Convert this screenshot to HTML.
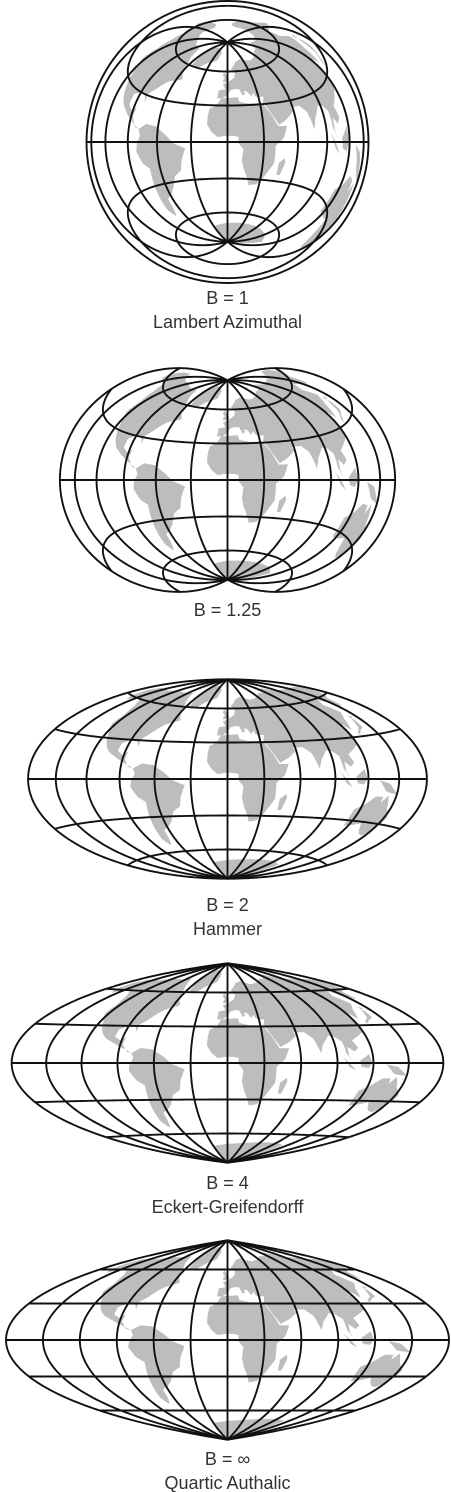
<!DOCTYPE html>
<html><head><meta charset="utf-8"><style>
html,body{margin:0;padding:0;background:#fff;}
svg{display:block;}
text{font-family:"Liberation Sans",sans-serif;font-size:18px;fill:#333;text-anchor:middle;}
</style></head><body>
<svg id="fig" width="451" height="1492" viewBox="0 0 451 1492" xmlns="http://www.w3.org/2000/svg"></svg>
<script>
const bValues=[1,1.25,2,4,Infinity];
const bLabels=["B = 1","B = 1.25","B = 2","B = 4","B = \u221e"];
const projNames=["Lambert Azimuthal","","Hammer","Eckert-Greifendorff","Quartic Authalic"];
const centerYs=[142,480,779,1063,1340];
const labelYs=[304,616,911,1189,1465];
const meridians=[-180,-150,-120,-90,-60,-30,0,30,60,90,120,150,180];
const parallels=[-60,-30,0,30,60];
const centralLon=0;
const land=[
[[-168,66],[-162,70],[-140,70],[-120,72],[-95,72],[-80,73],[-65,62],[-60,55],[-53,48],[-66,44],[-70,41],[-76,35],[-81,31],[-80,25],[-83,29],[-90,30],[-97,27],[-97,21],[-91,18],[-87,21],[-88,15],[-83,9],[-79,8],[-85,11],[-92,14],[-105,20],[-110,24],[-115,30],[-117,33],[-124,40],[-124,48],[-130,55],[-140,60],[-150,60],[-158,57],[-165,60]],
[[-55,60],[-45,60],[-35,66],[-20,70],[-18,78],[-30,83],[-50,82],[-65,78],[-58,70]],
[[-79,8],[-72,12],[-62,11],[-52,5],[-45,-1],[-35,-5],[-39,-14],[-41,-22],[-48,-26],[-53,-34],[-58,-38],[-65,-41],[-66,-47],[-69,-52],[-72,-54],[-75,-48],[-73,-37],[-71,-25],[-70,-18],[-76,-14],[-81,-6],[-80,-1],[-77,4]],
[[-17,21],[-16,27],[-10,30],[-6,36],[10,37],[11,33],[20,31],[32,31],[34,28],[39,20],[43,12],[51,12],[47,3],[40,-3],[40,-10],[40,-16],[35,-24],[32,-29],[27,-34],[20,-35],[18,-30],[14,-22],[12,-15],[13,-6],[9,-1],[9,4],[5,5],[-2,5],[-8,4],[-13,8],[-17,14]],
[[44,-25],[47,-25],[50,-15],[49,-12],[44,-16]],
[[-10,36],[-9,43],[-2,44],[-5,48],[2,51],[8,54],[10,58],[5,62],[15,69],[25,71],[40,68],[45,68],[60,70],[70,73],[80,73],[100,77],[115,73],[130,72],[150,71],[170,70],[175,68],[175,65],[170,60],[160,58],[156,51],[142,59],[135,55],[140,48],[132,43],[128,38],[126,35],[122,40],[118,38],[122,31],[120,25],[110,20],[106,18],[109,12],[105,9],[100,13],[100,6],[103,1],[98,8],[97,17],[92,21],[87,22],[80,15],[77,8],[73,20],[67,25],[58,25],[59,22],[52,17],[44,13],[39,21],[35,28],[33,31],[35,36],[30,36],[27,37],[26,40],[23,37],[21,40],[19,42],[16,41],[18,40],[15,38],[12,44],[8,44],[3,43],[0,39],[-5,36]],
[[-5,50],[1,51],[2,53],[-2,57],[-4,59],[-6,57],[-5,55],[-3,54],[-5,52]],
[[130,31],[135,34],[141,36],[142,40],[141,45],[145,44],[140,42],[136,36],[130,33]],
[[95,5],[106,-6],[100,-3]],
[[109,2],[117,7],[119,0],[116,-4],[110,-3]],
[[131,-1],[141,-3],[150,-10],[141,-9],[138,-8]],
[[114,-22],[122,-18],[130,-12],[137,-12],[137,-16],[142,-11],[146,-19],[153,-25],[151,-34],[146,-39],[140,-38],[135,-35],[131,-31],[124,-33],[115,-34],[114,-27]],
[[-30,-72],[0,-70],[30,-69],[60,-68],[90,-68],[110,-70],[110,-89.9],[-30,-89.9]]
];
const SCALE=70.5, CX=227.5;
const svg=document.getElementById('fig');
const NS='http://www.w3.org/2000/svg';
function proj(B,lon,lat){
  let l=lon*Math.PI/180, p=lat*Math.PI/180;
  if(!isFinite(B)){
    return [l*Math.cos(p)/Math.cos(p/2), 2*Math.sin(p/2)];
  }
  const lb=l/B;
  const k=Math.sqrt(2/(1+Math.cos(p)*Math.cos(lb)));
  return [B*k*Math.cos(p)*Math.sin(lb), k*Math.sin(p)];
}
function pt(B,cy,lon,lat){
  lon=Math.max(-179.99,Math.min(179.99,lon));
  const q=proj(B,lon,lat);
  return (CX+q[0]*SCALE).toFixed(2)+','+(cy-q[1]*SCALE).toFixed(2);
}
function mk(tag,attrs){const e=document.createElementNS(NS,tag);for(const k in attrs)e.setAttribute(k,attrs[k]);return e;}
bValues.forEach((B,i)=>{
  const cy=centerYs[i];
  const g=mk('g',{});
  
  
  svg.appendChild(g);
  land.forEach((poly,j)=>{
    const pts=[];
    for(let a=0;a<poly.length;a++){
      const p0=poly[a],p1=poly[(a+1)%poly.length];
      const n=Math.max(1,Math.ceil(Math.hypot(p1[0]-p0[0],p1[1]-p0[1])/2));
      for(let s=0;s<n;s++){
        const t=s/n;
        pts.push(pt(B,cy,p0[0]+(p1[0]-p0[0])*t-centralLon,p0[1]+(p1[1]-p0[1])*t));
      }
    }
    const e=mk('polygon',{points:pts.join(' '),fill:'#bdbdbd',stroke:'none'});
    
    
    g.appendChild(e);
  });
  parallels.forEach(lat=>{
    const pts=[];
    for(let lon=-180;lon<=180;lon+=2)pts.push(pt(B,cy,lon,lat));
    const e=mk('polyline',{points:pts.join(' '),fill:'none',stroke:'#111','stroke-width':1.9});
    
    
    g.appendChild(e);
  });
  meridians.forEach(lon=>{
    if(B===1 && Math.abs(lon)===180) return;
    const pts=[];
    for(let lat=-90;lat<=90;lat+=1)pts.push(pt(B,cy,lon,lat));
    const e=mk('polyline',{points:pts.join(' '),fill:'none',stroke:'#111','stroke-width':1.9});
    
    
    g.appendChild(e);
  });
  if(B===1){
    const c=mk('circle',{cx:CX,cy:cy,r:2*SCALE,fill:'none',stroke:'#111','stroke-width':1.9});
    
    
    g.appendChild(c);
  }
  const t=mk('text',{x:CX,y:labelYs[i]});
  t.textContent=bLabels[i];
  
  
  svg.appendChild(t);
  if(projNames[i]){
    const t2=mk('text',{x:CX,y:labelYs[i]+24});
    t2.textContent=projNames[i];
    
    
    svg.appendChild(t2);
  }
});
</script>
</body></html>
